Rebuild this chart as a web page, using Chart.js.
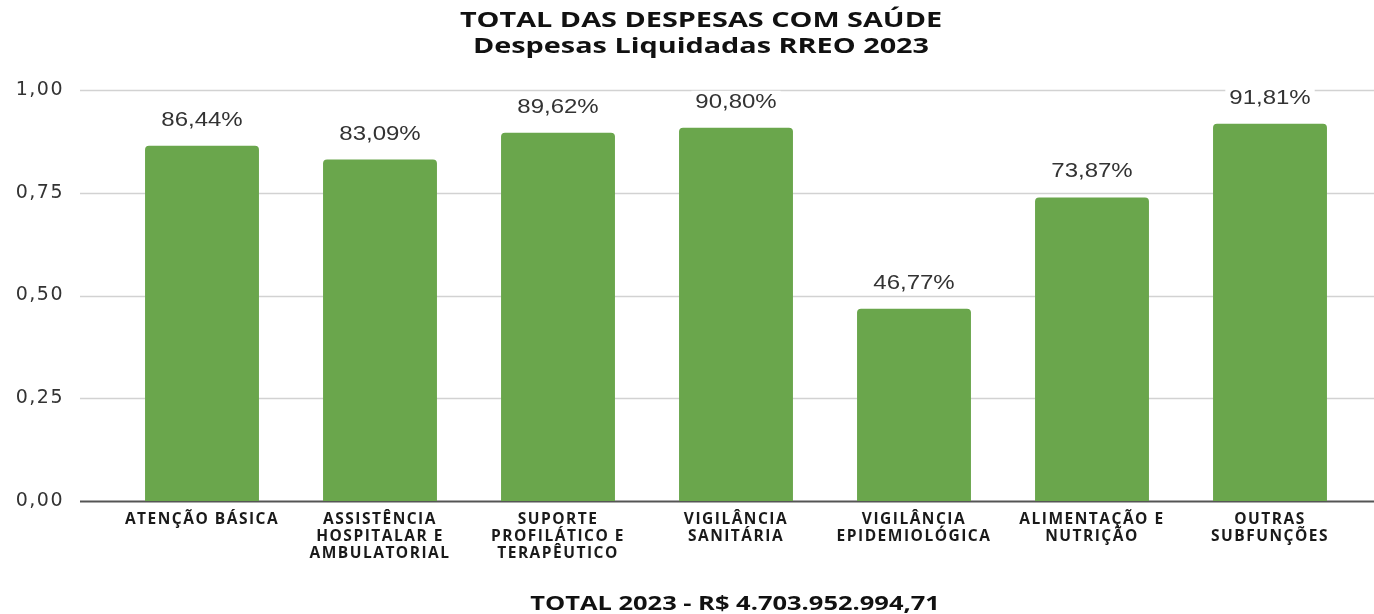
<!DOCTYPE html>
<html>
<head>
<meta charset="utf-8">
<script src="https://cdn.jsdelivr.net/npm/chart.js@4.4.1/dist/chart.umd.min.js"></script>
<style>
  html, body { margin: 0; padding: 0; background: #fff; overflow: hidden; }
  #wrap { position: relative; width: 1374px; height: 614px; overflow: hidden; }
  #chart { position: absolute; left: 0; top: 0; }
  .t { position: absolute; width: 1374px; text-align: center; font-family: "Open Sans", sans-serif; font-weight: bold; color: #111; white-space: nowrap; transform-origin: 50% 50%; }
  #title { left: 14px; top: 5px; font-size: 22px; line-height: 26px; transform: scaleX(1.31); }
  #footer { left: 48px; top: 590px; font-size: 19px; line-height: 26px; transform: scaleX(1.34); }
</style>
</head>
<body>
<div id="wrap">
  <canvas id="chart" width="1374" height="614"></canvas>
  <div id="title" class="t">TOTAL DAS DESPESAS COM SAÚDE<br>Despesas Liquidadas RREO 2023</div>
  <div id="footer" class="t">TOTAL 2023 - R$ 4.703.952.994,71</div>
</div>
<script>
const categories = [
  ["ATENÇÃO BÁSICA"],
  ["ASSISTÊNCIA", "HOSPITALAR E", "AMBULATORIAL"],
  ["SUPORTE", "PROFILÁTICO E", "TERAPÊUTICO"],
  ["VIGILÂNCIA", "SANITÁRIA"],
  ["VIGILÂNCIA", "EPIDEMIOLÓGICA"],
  ["ALIMENTAÇÃO E", "NUTRIÇÃO"],
  ["OUTRAS", "SUBFUNÇÕES"]
];
const values = [0.8644, 0.8309, 0.8962, 0.9080, 0.4677, 0.7387, 0.9181];
const yTicks = [0, 0.25, 0.5, 0.75, 1.0];

const fmtTick = v => v.toFixed(2).replace('.', ',');
const fmtPct = v => (v * 100).toFixed(2).replace('.', ',') + '%';

const spacingPlugin = {
  id: 'spacing',
  beforeDraw(chart) { chart.ctx.letterSpacing = '1.5px'; },
  beforeDatasetsDraw(chart) { chart.ctx.letterSpacing = '0px'; }
};

const gridPlugin = {
  id: 'fullGrid',
  beforeDatasetsDraw(chart) {
    const ctx = chart.ctx, y = chart.scales.y;
    ctx.save();
    yTicks.forEach(t => {
      const py = Math.round(y.getPixelForValue(t)) + 0.5;
      ctx.beginPath();
      ctx.moveTo(80, py);
      ctx.lineTo(1374, py);
      if (t === 0) { ctx.strokeStyle = '#555555'; ctx.lineWidth = 2; }
      else { ctx.strokeStyle = '#d2d2d2'; ctx.lineWidth = 1.5; }
      ctx.stroke();
    });
    ctx.restore();
  }
};

const labelPlugin = {
  id: 'barLabels',
  afterDatasetsDraw(chart) {
    const ctx = chart.ctx;
    const meta = chart.getDatasetMeta(0);
    const sx = 1.2;
    ctx.save();
    ctx.letterSpacing = '0px';
    ctx.font = '20px "Liberation Sans", Arial, sans-serif';
    ctx.textAlign = 'center';
    ctx.textBaseline = 'alphabetic';
    meta.data.forEach((bar, i) => {
      const txt = fmtPct(values[i]);
      const w = ctx.measureText(txt).width * sx;
      const by = bar.y - 20;
      ctx.fillStyle = '#ffffff';
      ctx.fillRect(bar.x - w / 2 - 4, by - 17, w + 8, 22);
      ctx.save();
      ctx.translate(bar.x, by);
      ctx.scale(sx, 1);
      ctx.fillStyle = '#333333';
      ctx.fillText(txt, 0, 0);
      ctx.restore();
    });
    ctx.restore();
  }
};

new Chart(document.getElementById('chart'), {
  type: 'bar',
  data: {
    labels: categories,
    datasets: [{
      data: values,
      backgroundColor: '#6aa64c',
      borderRadius: { topLeft: 4, topRight: 4 },
      borderSkipped: 'bottom',
      categoryPercentage: 1.0,
      barPercentage: 0.64
    }]
  },
  options: {
    responsive: false,
    animation: false,
    layout: { padding: { top: 90, right: 15, bottom: 0, left: 0 } },
    plugins: { legend: { display: false }, tooltip: { enabled: false }, title: { display: false } },
    scales: {
      x: {
        grid: { display: false, drawTicks: false },
        border: { display: false },
        ticks: {
          color: '#1a1a1a',
          padding: 10,
          maxRotation: 0,
          autoSkip: false,
          font: { family: '"Open Sans", sans-serif', weight: 'bold', size: 15.5, lineHeight: 1.09 }
        },
        afterFit(scale) { scale.height = 113; }
      },
      y: {
        min: 0, max: 1,
        grid: { display: false, drawTicks: false },
        border: { display: false },
        afterBuildTicks(scale) { scale.ticks = yTicks.map(v => ({ value: v })); },
        ticks: {
          color: '#333333',
          padding: 49,
          font: { family: '"DejaVu Sans", Verdana, sans-serif', size: 19 },
          callback: v => fmtTick(v)
        },
        afterFit(scale) { scale.width = 113; }
      }
    }
  },
  plugins: [spacingPlugin, gridPlugin, labelPlugin]
});
</script>
</body>
</html>
